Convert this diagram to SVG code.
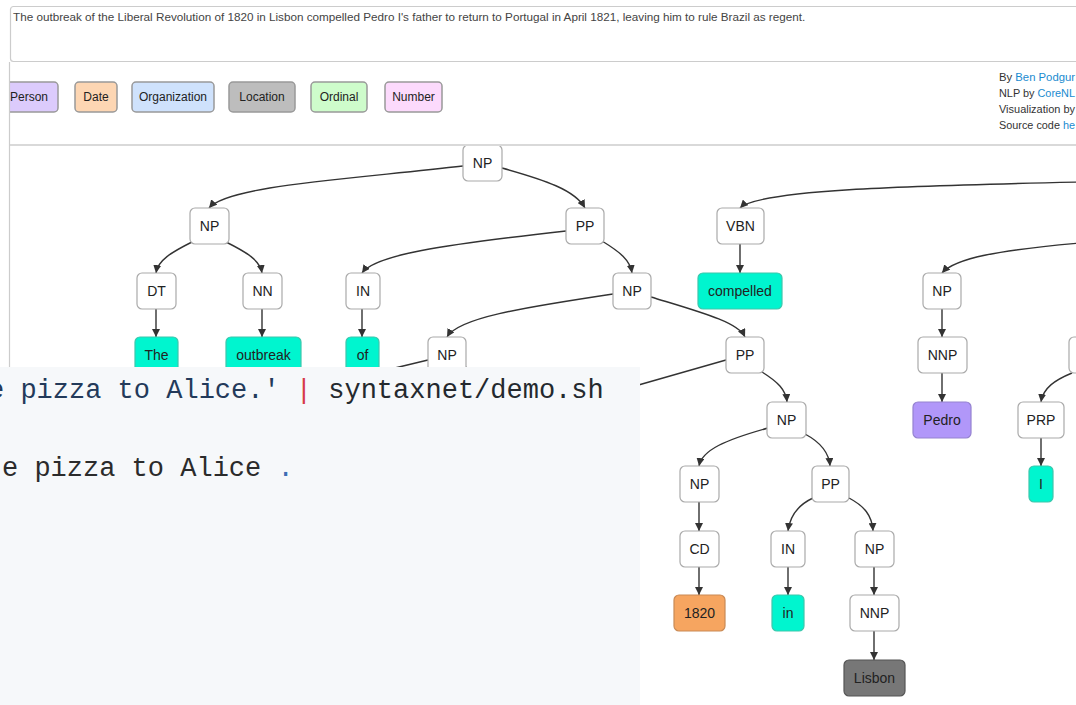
<svg xmlns="http://www.w3.org/2000/svg" width="1076" height="705" viewBox="0 0 1076 705">
<defs>
<style>
.hdr{font-family:"Liberation Sans",Arial,sans-serif;font-size:11.7px;fill:#444}
.cred{font-family:"Liberation Sans",Arial,sans-serif;font-size:11.5px;fill:#333}
.lnk{fill:#1a8bd0}
.leg rect{stroke:#999;stroke-width:1.5}
.leg text{font-family:"Liberation Sans",Arial,sans-serif;font-size:12px;fill:#222;text-anchor:middle}
.node rect{fill:#fff;stroke:#aaa;stroke-width:1.2}
.node text{font-family:"Liberation Sans",Arial,sans-serif;font-size:14px;fill:#222;text-anchor:middle}
.leaf rect{fill:#00f5cf;stroke:#3cc7ac}
.per rect{fill:#b197f9;stroke:#9583d0}
.dat rect{fill:#f6a560;stroke:#c98a55}
.loc rect{fill:#777;stroke:#555}
.edge{fill:none;stroke:#333;stroke-width:1.4}
.code{font-family:"Liberation Mono","DejaVu Sans Mono",monospace;font-size:27px;white-space:pre}
</style>
<marker id="arr" viewBox="0 0 10 10" refX="10" refY="5" markerWidth="8" markerHeight="8" markerUnits="userSpaceOnUse" orient="auto">
<path d="M0,0 L10,5 L0,10 z" fill="#333"/>
</marker>
<clipPath id="treeclip"><rect x="10" y="146" width="1066" height="559"/></clipPath>
</defs>
<rect x="0" y="0" width="1076" height="705" fill="#fff"/>

<g id="header">
<rect x="10.5" y="6.5" width="1080" height="55" rx="3" fill="#fff" stroke="#ccc" stroke-width="1.2"/>
<text class="hdr" x="13" y="21">The outbreak of the Liberal Revolution of 1820 in Lisbon compelled Pedro I's father to return to Portugal in April 1821, leaving him to rule Brazil as regent.</text>
</g>

<g id="legend" class="leg">
<g id="leg-person"><rect x="2" y="82" width="56" height="30" rx="4" fill="#dccbfc"/><text x="29" y="101">Person</text></g>
<g id="leg-date"><rect x="75" y="82" width="42" height="30" rx="4" fill="#fdd6b3"/><text x="96" y="101">Date</text></g>
<g id="leg-org"><rect x="132" y="82" width="82" height="30" rx="4" fill="#cfe2fc"/><text x="173" y="101">Organization</text></g>
<g id="leg-loc"><rect x="229" y="82" width="66" height="30" rx="4" fill="#bdbdbd"/><text x="262" y="101">Location</text></g>
<g id="leg-ord"><rect x="311" y="82" width="56" height="30" rx="4" fill="#cefccb"/><text x="339" y="101">Ordinal</text></g>
<g id="leg-num"><rect x="385" y="82" width="57" height="30" rx="4" fill="#fcdafc"/><text x="413.5" y="101">Number</text></g>
</g>
<rect x="0" y="60" width="9" height="60" fill="#fff"/>
<line x1="9.5" y1="62" x2="9.5" y2="367" stroke="#ccc" stroke-width="1.2"/>

<g id="credits">
<text class="cred" x="999" y="81" textLength="76" lengthAdjust="spacingAndGlyphs">By <tspan class="lnk">Ben Podgur</tspan></text>
<text class="cred" x="999" y="97" textLength="76" lengthAdjust="spacingAndGlyphs">NLP by <tspan class="lnk">CoreNL</tspan></text>
<text class="cred" x="999" y="113" textLength="76" lengthAdjust="spacingAndGlyphs">Visualization by</text>
<text class="cred" x="999" y="129" textLength="76" lengthAdjust="spacingAndGlyphs">Source code <tspan class="lnk">he</tspan></text>
</g>

<g id="tree" clip-path="url(#treeclip)">
<g id="connectors">
<path class="edge" d="M489,120 L489,146" marker-end="url(#arr)"/>
<path class="edge" d="M463,166 C340,180 228,186 209,208" marker-end="url(#arr)"/>
<path class="edge" d="M502,168 C545,180 575,190 585,208" marker-end="url(#arr)"/>
<path class="edge" d="M1080,182 C900,186 758,190 740,208" marker-end="url(#arr)"/>
<path class="edge" d="M1080,243 C1000,250 955,258 942,273" marker-end="url(#arr)"/>
<path class="edge" d="M1072,373 C1055,380 1043,388 1041,402" marker-end="url(#arr)"/>
<path class="edge" d="M192,242 C172,252 158,260 156,273" marker-end="url(#arr)"/>
<path class="edge" d="M226,242 C246,252 260,260 262,273" marker-end="url(#arr)"/>
<path class="edge" d="M156,309 L156,337" marker-end="url(#arr)"/>
<path class="edge" d="M262,309 L262,337" marker-end="url(#arr)"/>
<path class="edge" d="M566,231 C440,245 375,255 362,273" marker-end="url(#arr)"/>
<path class="edge" d="M602,241 C620,252 630,260 632,273" marker-end="url(#arr)"/>
<path class="edge" d="M362,309 L362,337" marker-end="url(#arr)"/>
<path class="edge" d="M740,244 L740,273" marker-end="url(#arr)"/>
<path class="edge" d="M613,294 C520,308 458,318 447,337" marker-end="url(#arr)"/>
<path class="edge" d="M651,297 C700,312 738,322 745,337" marker-end="url(#arr)"/>
<path class="edge" d="M942,309 L942,337" marker-end="url(#arr)"/>
<path class="edge" d="M428,360 L370,374"/>
<path class="edge" d="M464,366 L478,374"/>
<path class="edge" d="M726,360 L600,396"/>
<path class="edge" d="M762,372 C778,382 786,390 787,402" marker-end="url(#arr)"/>
<path class="edge" d="M942,373 L942,402" marker-end="url(#arr)"/>
<path class="edge" d="M1041,438 L1041,466" marker-end="url(#arr)"/>
<path class="edge" d="M768,428 C725,440 702,450 699,466" marker-end="url(#arr)"/>
<path class="edge" d="M805,434 C820,442 829,452 830,466" marker-end="url(#arr)"/>
<path class="edge" d="M699,502 L699,531" marker-end="url(#arr)"/>
<path class="edge" d="M813,498 C798,505 790,515 788,531" marker-end="url(#arr)"/>
<path class="edge" d="M849,498 C864,506 872,515 873,531" marker-end="url(#arr)"/>
<path class="edge" d="M699,567 L699,595" marker-end="url(#arr)"/>
<path class="edge" d="M788,567 L788,595" marker-end="url(#arr)"/>
<path class="edge" d="M874,567 L874,595" marker-end="url(#arr)"/>
<path class="edge" d="M874,631 L874,660" marker-end="url(#arr)"/>
</g>

<g id="n-np-root" class="node"><rect x="463" y="145" width="39" height="36" rx="5"/><text x="482.5" y="168">NP</text></g>
<g id="n-np-a" class="node"><rect x="190" y="208" width="39" height="36" rx="5"/><text x="209.5" y="231">NP</text></g>
<g id="n-pp-a" class="node"><rect x="566" y="208" width="38" height="36" rx="5"/><text x="585" y="231">PP</text></g>
<g id="n-vbn" class="node"><rect x="717" y="208" width="47" height="36" rx="5"/><text x="740.5" y="231">VBN</text></g>
<g id="n-dt" class="node"><rect x="137" y="273" width="39" height="36" rx="5"/><text x="156.5" y="296">DT</text></g>
<g id="n-nn" class="node"><rect x="243" y="273" width="39" height="36" rx="5"/><text x="262.5" y="296">NN</text></g>
<g id="n-in-a" class="node"><rect x="346" y="273" width="34" height="36" rx="5"/><text x="363" y="296">IN</text></g>
<g id="n-np-b" class="node"><rect x="613" y="273" width="38" height="36" rx="5"/><text x="632" y="296">NP</text></g>
<g id="n-compelled" class="node leaf"><rect x="698" y="273" width="84" height="36" rx="5"/><text x="740" y="296">compelled</text></g>
<g id="n-np-c" class="node"><rect x="923" y="273" width="38" height="36" rx="5"/><text x="942" y="296">NP</text></g>
<g id="n-the" class="node leaf"><rect x="135" y="337" width="43" height="36" rx="5"/><text x="156.5" y="360">The</text></g>
<g id="n-outbreak" class="node leaf"><rect x="226" y="337" width="75" height="36" rx="5"/><text x="263.5" y="360">outbreak</text></g>
<g id="n-of" class="node leaf"><rect x="346" y="337" width="33" height="36" rx="5"/><text x="362.5" y="360">of</text></g>
<g id="n-np-d" class="node"><rect x="428" y="337" width="38" height="36" rx="5"/><text x="447" y="360">NP</text></g>
<g id="n-pp-b" class="node"><rect x="726" y="337" width="38" height="36" rx="5"/><text x="745" y="360">PP</text></g>
<g id="n-nnp-a" class="node"><rect x="918" y="337" width="49" height="36" rx="5"/><text x="942.5" y="360">NNP</text></g>
<g id="n-edge-right" class="node"><rect x="1069" y="337" width="40" height="36" rx="5"/></g>
<g id="n-np-e" class="node"><rect x="767" y="402" width="39" height="36" rx="5"/><text x="786.5" y="425">NP</text></g>
<g id="n-pedro" class="node per"><rect x="913" y="402" width="58" height="36" rx="5"/><text x="942" y="425">Pedro</text></g>
<g id="n-prp" class="node"><rect x="1018" y="402" width="46" height="36" rx="5"/><text x="1041" y="425">PRP</text></g>
<g id="n-np-f" class="node"><rect x="680" y="466" width="39" height="36" rx="5"/><text x="699.5" y="489">NP</text></g>
<g id="n-pp-c" class="node"><rect x="812" y="466" width="37" height="36" rx="5"/><text x="830.5" y="489">PP</text></g>
<g id="n-i" class="node leaf"><rect x="1029" y="466" width="24" height="36" rx="5"/><text x="1041" y="489">I</text></g>
<g id="n-cd" class="node"><rect x="680" y="531" width="39" height="36" rx="5"/><text x="699.5" y="554">CD</text></g>
<g id="n-in-b" class="node"><rect x="771" y="531" width="34" height="36" rx="5"/><text x="788" y="554">IN</text></g>
<g id="n-np-g" class="node"><rect x="855" y="531" width="39" height="36" rx="5"/><text x="874.5" y="554">NP</text></g>
<g id="n-1820" class="node dat"><rect x="674" y="595" width="51" height="36" rx="5"/><text x="699.5" y="618">1820</text></g>
<g id="n-in-leaf" class="node leaf"><rect x="772" y="595" width="32" height="36" rx="5"/><text x="788" y="618">in</text></g>
<g id="n-nnp-b" class="node"><rect x="850" y="595" width="49" height="36" rx="5"/><text x="874.5" y="618">NNP</text></g>
<g id="n-lisbon" class="node loc"><rect x="844" y="660" width="61" height="36" rx="5"/><text x="874.5" y="683">Lisbon</text></g>
</g>
<line x1="9.5" y1="145" x2="1076" y2="145" stroke="#ccc" stroke-width="1.5"/>

<g id="code-overlay">
<rect x="0" y="367" width="640" height="338" fill="#f6f8fa"/>
<text class="code" x="-12" y="398"><tspan fill="#233a5a">e pizza to Alice.'</tspan><tspan fill="#d73a49"> |</tspan><tspan fill="#24292e"> syntaxnet/demo.sh</tspan></text>
<text class="code" x="2" y="476"><tspan fill="#2b2b2b">e pizza to Alice</tspan><tspan fill="#3d6eb4"> .</tspan></text>
</g>
</svg>
